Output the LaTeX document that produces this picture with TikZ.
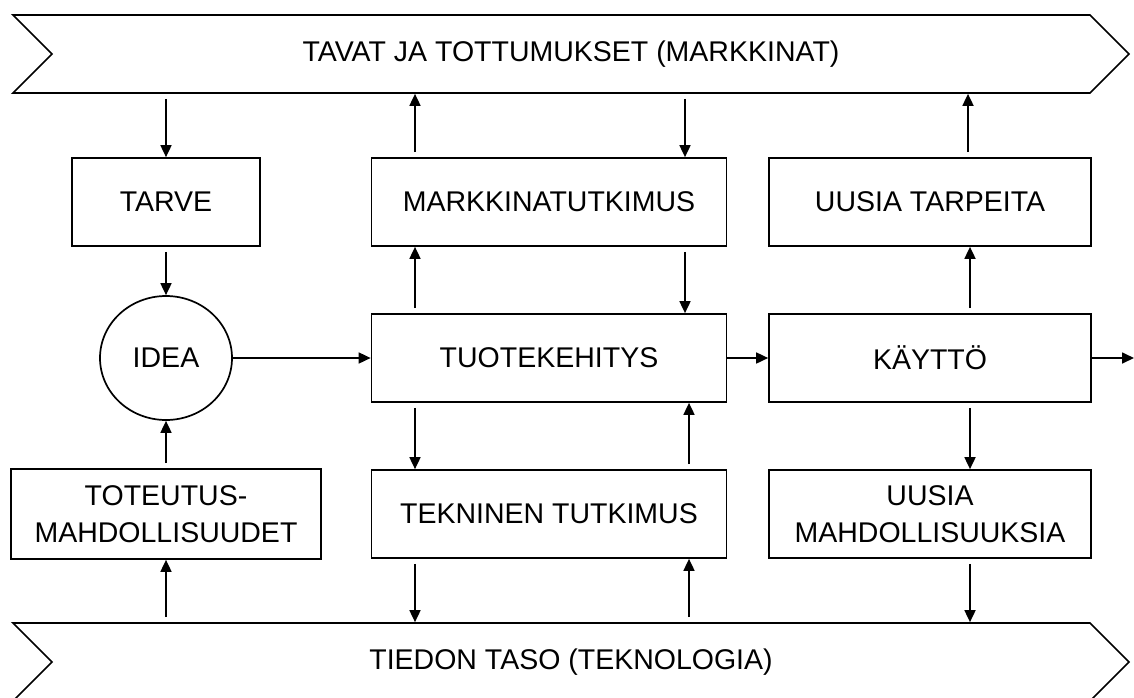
\documentclass[tikz,border=0pt]{standalone}
\usepackage{fontspec}
\setmainfont{Liberation Sans}
\usetikzlibrary{arrows.meta,shapes.geometric,shapes.symbols}

\begin{document}
\begin{tikzpicture}[x=0.5pt,y=-0.5pt,node distance=78pt,line width=0.85pt,
    >={Triangle[length=6pt,width=5.5pt]},font=\fontsize{14.25}{18.5}\selectfont]
  \tikzstyle{box}=[rectangle,draw,minimum height=44pt,align=center]
  \tikzstyle{band}=[signal,draw,signal from=west,signal to=east,
                    signal pointer angle=90,minimum width=558pt,minimum height=39pt]
  \tikzstyle{link}=[->,shorten <=2.5pt]

  \useasboundingbox (0,0) rectangle (1134,697);

  % the two levels
  \node [band] (markets) at (571,54) {TAVAT JA TOTTUMUKSET (MARKKINAT)};
  \node [band] (tech) at (571,662) {TIEDON TASO (TEKNOLOGIA)};

  % left column
  \node [box,minimum width=94pt] (need) at (166,202) {TARVE};
  \node [ellipse,draw,minimum width=66pt,minimum height=62pt] (idea) [below of=need] {IDEA};
  \node [box,minimum width=155pt,minimum height=45pt] (means) [below of=idea]
    {TOTEUTUS-\\MAHDOLLISUUDET};

  % middle column
  \node [box,minimum width=177.5pt] (survey) [right of=need,node distance=191.5pt] {MARKKINATUTKIMUS};
  \node [box,minimum width=177.5pt] (dev) [below of=survey] {TUOTEKEHITYS};
  \node [box,minimum width=177.5pt] (research) [below of=dev] {TEKNINEN TUTKIMUS};

  % right column
  \node [box,minimum width=161pt] (newneeds) [right of=survey,node distance=190.5pt] {UUSIA TARPEITA};
  \node [box,minimum width=161pt] (use) [below of=newneeds] {KÄYTTÖ};
  \node [box,minimum width=161pt] (newmeans) [below of=use] {UUSIA\\MAHDOLLISUUKSIA};
  \coordinate (out) at (1134,358);

  \draw [link] (need.north |- markets.south) -- (need.north);
  \draw [link] (need) -- (idea);
  \draw [link] (means) -- (idea);
  \draw [link] (means.south |- tech.north) -- (means.south);
  \draw [->] (idea) -- (dev);

  \draw [link] ([xshift=-67pt]survey.north) -- ([xshift=-67pt]survey.north |- markets.south);
  \draw [link] ([xshift=68pt]survey.north |- markets.south) -- ([xshift=68pt]survey.north);
  \draw [link] ([xshift=-67pt]dev.north) -- ([xshift=-67pt]survey.south);
  \draw [link] ([xshift=68pt]survey.south) -- ([xshift=68pt]dev.north);
  \draw [link] ([xshift=-67pt]dev.south) -- ([xshift=-67pt]research.north);
  \draw [link] ([xshift=70pt]research.north) -- ([xshift=70pt]dev.south);
  \draw [link] ([xshift=-67pt]research.south) -- ([xshift=-67pt]research.south |- tech.north);
  \draw [link] ([xshift=70pt]research.south |- tech.north) -- ([xshift=70pt]research.south);

  \draw [->] (dev) -- (use);
  \draw [->] (use) -- (out);
  \draw [link] ([xshift=20pt]use.north) -- ([xshift=20pt]newneeds.south);
  \draw [link] ([xshift=19pt]newneeds.north) -- ([xshift=19pt]newneeds.north |- markets.south);
  \draw [link] ([xshift=20pt]use.south) -- ([xshift=20pt]newmeans.north);
  \draw [link] ([xshift=20pt]newmeans.south) -- ([xshift=20pt]newmeans.south |- tech.north);
\end{tikzpicture}
\end{document}
